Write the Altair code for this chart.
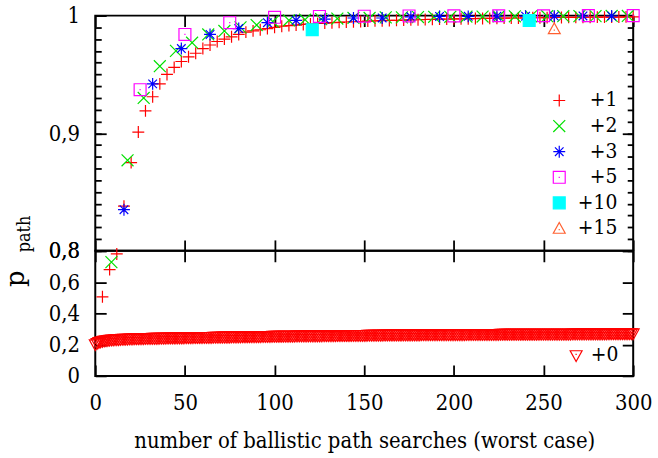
import altair as alt
import pandas as pd

FONT = "DejaVu Serif Condensed"

# probability of finding a path vs. number of ballistic path searches,
# one series per extra-hop budget ("+k")
x_p1 = list(range(4, 301, 4))
p_p1 = [0.506, 0.680, 0.780, 0.838, 0.875, 0.901, 0.919, 0.931, 0.942, 0.950,
        0.956, 0.961, 0.965, 0.968, 0.972, 0.975, 0.978, 0.980, 0.982, 0.984,
        0.986, 0.987, 0.988, 0.989, 0.990, 0.9910, 0.9915, 0.9920, 0.9925, 0.9930,
        0.9933, 0.9937, 0.9940, 0.9943, 0.9946, 0.9948, 0.9950, 0.9953, 0.9955, 0.9957,
        0.9959, 0.9960, 0.9962, 0.9964, 0.9965, 0.9967, 0.9968, 0.9970, 0.9971, 0.9972,
        0.9973, 0.9974, 0.9975, 0.9976, 0.9977, 0.9978, 0.9979, 0.9980, 0.9980, 0.9981,
        0.9982, 0.9982, 0.9983, 0.9984, 0.9984, 0.9985, 0.9985, 0.9986, 0.9986, 0.9987,
        0.9987, 0.9988, 0.9988, 0.9989, 0.9989]

x_p2 = list(range(9, 298, 9))
p_p2 = [0.728, 0.877, 0.930, 0.957, 0.970, 0.977, 0.984, 0.987, 0.990, 0.992,
        0.995, 0.996, 0.9965, 0.997, 0.9975, 0.998, 0.998, 0.9985, 0.9985, 0.9988,
        0.999, 0.999, 0.9992, 0.9992, 0.9993, 0.9994, 0.9994, 0.9995, 0.9995, 0.9996,
        0.9996, 0.9997, 0.9997]

x_p3 = list(range(16, 289, 16))
p_p3 = [0.835, 0.942, 0.972, 0.984, 0.989, 0.994, 0.996, 0.997, 0.998, 0.998,
        0.999, 0.9993, 0.9994, 0.9995, 0.9995, 0.9996, 0.9997, 0.9997]

x_p5 = list(range(25, 301, 25))
p_p5 = [0.937, 0.984, 0.994, 0.9986, 0.9993, 0.9995, 0.9997, 0.9998, 0.9999,
        0.9999, 1.0, 1.0]

x_p10 = [121, 242]
p_p10 = [0.988, 0.9958]

x_p15 = [256]
p_p15 = [0.9887]

# "+0": one value per search count 0..300
x_p0 = list(range(0, 301))
p_p0 = [0.200,
        0.208, 0.214, 0.218, 0.221, 0.224, 0.226, 0.227, 0.229, 0.230, 0.231,
        0.232, 0.233, 0.233, 0.234, 0.235, 0.235, 0.236, 0.236, 0.237, 0.237,
        0.237, 0.238, 0.238, 0.238, 0.239, 0.239, 0.239, 0.240, 0.240, 0.240,
        0.240, 0.241, 0.241, 0.241, 0.241, 0.242, 0.242, 0.242, 0.242, 0.243,
        0.243, 0.243, 0.243, 0.243, 0.244, 0.244, 0.244, 0.244, 0.244, 0.245,
        0.245, 0.245, 0.245, 0.245, 0.246, 0.246, 0.246, 0.246, 0.246, 0.247,
        0.247, 0.247, 0.247, 0.247, 0.247, 0.248, 0.248, 0.248, 0.248, 0.248,
        0.249, 0.249, 0.249, 0.249, 0.249, 0.250, 0.250, 0.250, 0.250, 0.250,
        0.250, 0.251, 0.251, 0.251, 0.251, 0.251, 0.252, 0.252, 0.252, 0.252,
        0.252, 0.252, 0.253, 0.253, 0.253, 0.253, 0.253, 0.253, 0.254, 0.254,
        0.254, 0.254, 0.254, 0.254, 0.255, 0.255, 0.255, 0.255, 0.255, 0.255,
        0.255, 0.256, 0.256, 0.256, 0.256, 0.256, 0.256, 0.256, 0.257, 0.257,
        0.257, 0.257, 0.257, 0.257, 0.257, 0.257, 0.258, 0.258, 0.258, 0.258,
        0.258, 0.258, 0.258, 0.258, 0.259, 0.259, 0.259, 0.259, 0.259, 0.259,
        0.259, 0.259, 0.260, 0.260, 0.260, 0.260, 0.260, 0.260, 0.260, 0.260,
        0.260, 0.261, 0.261, 0.261, 0.261, 0.261, 0.261, 0.261, 0.261, 0.261,
        0.262, 0.262, 0.262, 0.262, 0.262, 0.262, 0.262, 0.262, 0.262, 0.262,
        0.263, 0.263, 0.263, 0.263, 0.263, 0.263, 0.263, 0.263, 0.263, 0.263,
        0.263, 0.264, 0.264, 0.264, 0.264, 0.264, 0.264, 0.264, 0.264, 0.264,
        0.264, 0.264, 0.264, 0.265, 0.265, 0.265, 0.265, 0.265, 0.265, 0.265,
        0.265, 0.265, 0.265, 0.265, 0.265, 0.265, 0.266, 0.266, 0.266, 0.266,
        0.266, 0.266, 0.266, 0.266, 0.266, 0.266, 0.266, 0.266, 0.266, 0.266,
        0.266, 0.266, 0.266, 0.266, 0.266, 0.267, 0.267, 0.267, 0.267, 0.267,
        0.267, 0.267, 0.267, 0.267, 0.267, 0.267, 0.267, 0.267, 0.267, 0.267,
        0.267, 0.267, 0.267, 0.267, 0.267, 0.267, 0.268, 0.268, 0.268, 0.268,
        0.268, 0.268, 0.268, 0.268, 0.268, 0.268, 0.268, 0.268, 0.268, 0.268,
        0.268, 0.268, 0.268, 0.268, 0.268, 0.269, 0.269, 0.269, 0.269, 0.269,
        0.269, 0.269, 0.269, 0.269, 0.269, 0.269, 0.269, 0.269, 0.269, 0.269,
        0.269, 0.269, 0.269, 0.269, 0.269, 0.270, 0.270, 0.270, 0.270, 0.270,
        0.270, 0.270, 0.270, 0.270, 0.270, 0.270, 0.270, 0.270, 0.270, 0.270]

x_ticks = [0, 50, 100, 150, 200, 250, 300]
y_major_top = [0.8, 0.9, 1.0]
y_minor_top = [round(0.8 + 0.01 * i, 2) for i in range(21)]
y_major_bottom = [0.0, 0.2, 0.4, 0.6, 0.8]

x_title = "number of ballistic path searches (worst case)"
y_title_main = "p"
y_title_sub = "path"

# gnuplot-like point symbols as unit-square SVG paths
PLUS = "M-1,0L1,0M0,-1L0,1"
CROSS = "M-1,-1L1,1M-1,1L1,-1"
STAR = "M-1,0L1,0M0,-1L0,1M-0.72,-0.72L0.72,0.72M-0.72,0.72L0.72,-0.72"
BOX_DOT = "M-1,-1L1,-1L1,1L-1,1Z M-0.1,0L0.1,0"
TRI_UP = "M0,-1L1,0.8L-1,0.8Z M-0.1,0.2L0.1,0.2"
TRI_DOWN = "M0,1L1,-0.8L-1,-0.8Z M-0.1,-0.2L0.1,-0.2"

order_top = ["+1", "+2", "+3", "+5", "+10", "+15"]
shapes_top = [PLUS, CROSS, STAR, BOX_DOT, "square", TRI_UP]
strokes_top = ["#ff0000", "#00e000", "#0000ff", "#ff00ff", "#00ffff", "#ff6030"]
fills_top = ["transparent", "transparent", "transparent", "transparent", "#00ffff", "transparent"]


def frame(xs, ps, name):
    return pd.DataFrame({"x": xs, "p": ps, "series": name})


hops = pd.concat([
    frame(x_p1, p_p1, "+1"), frame(x_p2, p_p2, "+2"), frame(x_p3, p_p3, "+3"),
    frame(x_p5, p_p5, "+5"), frame(x_p10, p_p10, "+10"), frame(x_p15, p_p15, "+15"),
], ignore_index=True)
upper = hops[hops["p"] >= 0.8]
lower = hops[hops["p"] < 0.8]
zero_hops = frame(x_p0, p_p0, "+0")

x_scale = alt.Scale(domain=[0, 300], nice=False)
y_scale_top = alt.Scale(domain=[0.8, 1.0], nice=False, zero=False)
y_scale_bottom = alt.Scale(domain=[0.0, 0.8], nice=False)

label_expr = ("datum.value == 0 ? '0' : datum.value == 1 ? '1' : "
              "replace(format(datum.value, '.1f'), '.', ',')")

point_style = dict(filled=False, size=144, strokeWidth=1.2, opacity=1, clip=False)


def ticks_axis(orient, values, size, **extra):
    # inward ticks: pull the axis line inside the frame by its tick length
    return alt.Axis(orient=orient, values=values, tickSize=size, offset=-size,
                    domain=False, grid=False, ticks=True, tickColor="black",
                    tickWidth=1.8, labels=extra.pop("labels", False), **extra)


labelled = dict(labels=True, labelExpr=label_expr, labelFont=FONT, labelFontSize=22,
                labelColor="black", labelPadding=16)


def guide(df, yscale, xaxis=None, yaxis=None):
    return alt.Chart(df).mark_point(opacity=0).encode(
        x=alt.X("x:Q", scale=x_scale, axis=xaxis, title=None),
        y=alt.Y("p:Q", scale=yscale, axis=yaxis, title=None),
    )


def legend(x, y, offset):
    return alt.Legend(title=None, orient="none", legendX=x, legendY=y,
                      labelAlign="right", labelOffset=offset, labelFont=FONT,
                      labelFontSize=21, labelColor="black", rowPadding=3.8,
                      symbolSize=144, symbolStrokeWidth=1.2, padding=0)


leg_top = legend(457, 75, 48)
top_points = alt.Chart(upper).mark_point(**point_style).encode(
    x=alt.X("x:Q", scale=x_scale, axis=None),
    y=alt.Y("p:Q", scale=y_scale_top, axis=None),
    shape=alt.Shape("series:N", scale=alt.Scale(domain=order_top, range=shapes_top), legend=leg_top),
    stroke=alt.Stroke("series:N", scale=alt.Scale(domain=order_top, range=strokes_top), legend=leg_top),
    fill=alt.Fill("series:N", scale=alt.Scale(domain=order_top, range=fills_top), legend=leg_top),
)

y_label_main = alt.Chart().mark_text(
    text=y_title_main, font="DejaVu Serif", fontSize=26, angle=270, align="center",
    baseline="alphabetic", color="black",
).encode(x=alt.value(-72), y=alt.value(265))
y_label_sub = alt.Chart().mark_text(
    text=y_title_sub, font=FONT, fontSize=18, angle=270, align="center",
    baseline="alphabetic", color="black",
).encode(x=alt.value(-66), y=alt.value(220))

top = alt.layer(
    top_points,
    guide(upper, y_scale_top, xaxis=ticks_axis("bottom", x_ticks, 11)),
    guide(upper, y_scale_top, xaxis=ticks_axis("top", x_ticks, 11)),
    guide(upper, y_scale_top, yaxis=ticks_axis("left", y_major_top, 11, **labelled)),
    guide(upper, y_scale_top, yaxis=ticks_axis("left", y_minor_top, 6)),
    guide(upper, y_scale_top, yaxis=ticks_axis("right", y_major_top, 11)),
    guide(upper, y_scale_top, yaxis=ticks_axis("right", y_minor_top, 6)),
    y_label_main,
    y_label_sub,
).resolve_axis(x="independent", y="independent").properties(width=542, height=237)

# early points of the +1 / +2 series fall below 0.8
low_layers = []
for name in ["+1", "+2"]:
    i = order_top.index(name)
    low_layers.append(
        alt.Chart(lower[lower["series"] == name]).mark_point(
            shape=shapes_top[i], stroke=strokes_top[i], fill=fills_top[i], **point_style
        ).encode(
            x=alt.X("x:Q", scale=x_scale, axis=None),
            y=alt.Y("p:Q", scale=y_scale_bottom, axis=None),
        )
    )

leg_bottom = legend(474, 95, 32)
zero_points = alt.Chart(zero_hops).mark_point(**point_style).encode(
    x=alt.X("x:Q", scale=x_scale, axis=None),
    y=alt.Y("p:Q", scale=y_scale_bottom, axis=None),
    shape=alt.Shape("series:N", scale=alt.Scale(domain=["+0"], range=[TRI_DOWN]), legend=leg_bottom),
    stroke=alt.Stroke("series:N", scale=alt.Scale(domain=["+0"], range=["#ff0000"]), legend=leg_bottom),
    fill=alt.Fill("series:N", scale=alt.Scale(domain=["+0"], range=["transparent"]), legend=leg_bottom),
)

bottom_x_axis = ticks_axis(
    "bottom", x_ticks, 11, labels=True, labelFont=FONT, labelFontSize=22,
    labelColor="black", labelPadding=17, labelFlush=False, labelOverlap=False,
    title=x_title, titleFont=FONT, titleFontSize=22, titleFontWeight="normal",
    titleColor="black", titlePadding=17,
)

bottom = alt.layer(
    zero_points,
    *low_layers,
    guide(zero_hops, y_scale_bottom, xaxis=bottom_x_axis),
    guide(zero_hops, y_scale_bottom, xaxis=ticks_axis("top", x_ticks, 11)),
    guide(zero_hops, y_scale_bottom, yaxis=ticks_axis("left", y_major_bottom, 11, **labelled)),
    guide(zero_hops, y_scale_bottom, yaxis=ticks_axis("right", y_major_bottom, 11)),
).resolve_axis(x="independent", y="independent").properties(width=542, height=126)

chart = alt.vconcat(top, bottom, spacing=0, bounds="flush").resolve_scale(
    shape="independent", stroke="independent", fill="independent"
).resolve_legend(
    shape="independent", stroke="independent", fill="independent"
).properties(
    padding={"left": 2, "top": 2, "right": 5, "bottom": 5},
    background="white",
).configure_view(stroke="black", strokeWidth=2)

chart.save("out.html", embed_options={"renderer": "svg", "actions": False})
